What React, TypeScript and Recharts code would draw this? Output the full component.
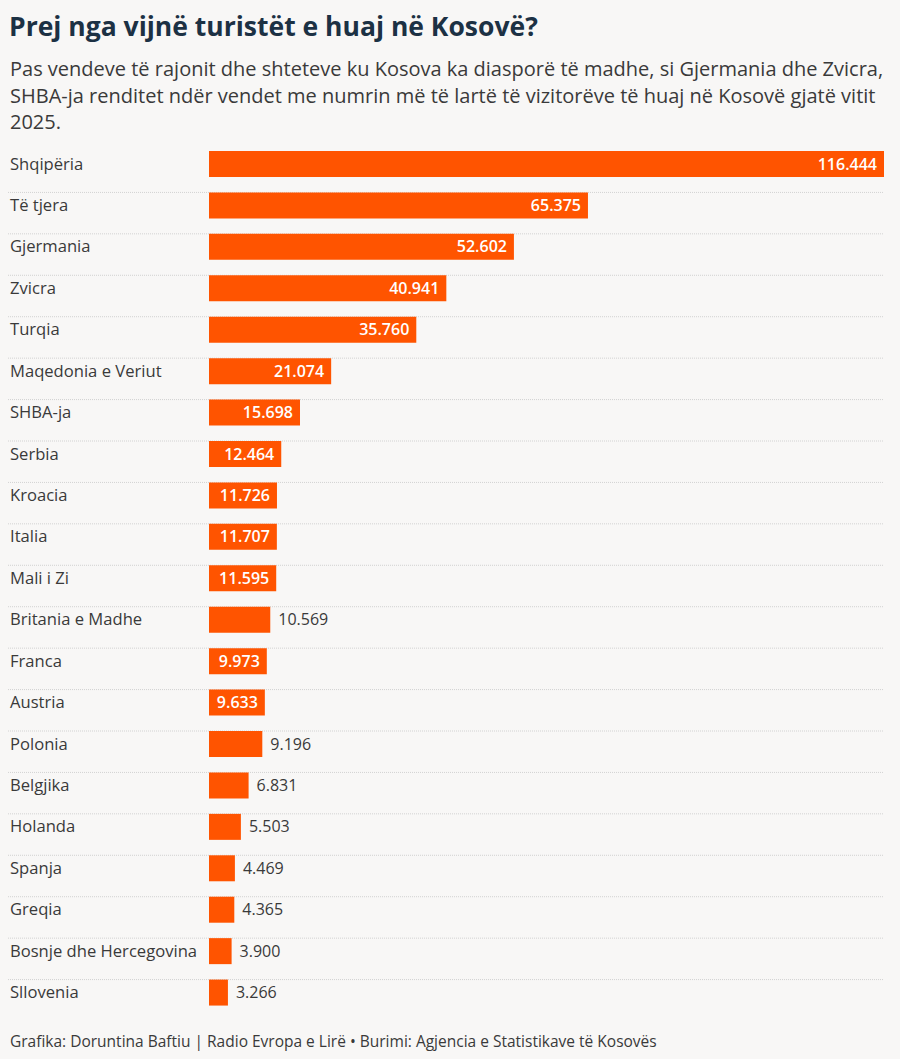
import { Bar, BarChart, LabelList, XAxis, YAxis } from "recharts";

const countries = [
  "Shqipëria",
  "Të tjera",
  "Gjermania",
  "Zvicra",
  "Turqia",
  "Maqedonia e Veriut",
  "SHBA-ja",
  "Serbia",
  "Kroacia",
  "Italia",
  "Mali i Zi",
  "Britania e Madhe",
  "Franca",
  "Austria",
  "Polonia",
  "Belgjika",
  "Holanda",
  "Spanja",
  "Greqia",
  "Bosnje dhe Hercegovina",
  "Sllovenia",
];

const visitors = [
  116444, 65375, 52602, 40941, 35760, 21074, 15698, 12464, 11726, 11707, 11595,
  10569, 9973, 9633, 9196, 6831, 5503, 4469, 4365, 3900, 3266,
];

const rows = countries.map((name, i) => ({ name, value: visitors[i] }));

const FONT = "'Open Sans', 'Noto Sans', sans-serif";
const ORANGE = "#ff5400";
const TEXT = "#3a3a3a";

function formatNum(v: number) {
  return v.toLocaleString("de-DE");
}

// rough width of a value label, used to decide inside / outside
function textWidth(s: string) {
  let w = 0;
  for (const c of s) w += c === "." ? 4.5 : 9.3;
  return w;
}

function ValueLabel(props: any) {
  const { x, y, width, height, value } = props;
  const txt = formatNum(value);
  const inside = width >= textWidth(txt) + 12;
  const cy = y + height / 2;
  return inside ? (
    <text
      x={x + width - 7}
      y={cy}
      dy="0.35em"
      textAnchor="end"
      fill="#ffffff"
      fontSize={16}
      fontWeight={600}
      fontFamily={FONT}
    >
      {txt}
    </text>
  ) : (
    <text
      x={x + width + 8}
      y={cy}
      dy="0.35em"
      textAnchor="start"
      fill={TEXT}
      fontSize={16}
      fontFamily={FONT}
    >
      {txt}
    </text>
  );
}

function RowLine(props: any) {
  const { x, y, width, index } = props;
  if (!index) return <g />;
  return (
    <line
      x1={8}
      x2={x + width}
      y1={y}
      y2={y}
      stroke="#d2d2d2"
      strokeWidth={1}
      strokeDasharray="1 1"
    />
  );
}

function CategoryTick(props: any) {
  const { y, payload } = props;
  return (
    <text x={10} y={y} dy="0.35em" fill={TEXT} fontSize={16.6} fontFamily={FONT}>
      {payload.value}
    </text>
  );
}

export default function App() {
  return (
    <div
      style={{
        position: "fixed",
        left: 0,
        top: 0,
        width: 900,
        height: 1059,
        background: "#f8f7f6",
        fontFamily: FONT,
        overflow: "hidden",
      }}
    >
      <div
        style={{
          position: "absolute",
          left: 9,
          top: 8,
          fontSize: 26.5,
          fontWeight: 700,
          color: "#1c3144",
        }}
      >
        Prej nga vijnë turistët e huaj në Kosovë?
      </div>
      <div
        style={{
          position: "absolute",
          left: 10,
          top: 56,
          fontSize: 20,
          lineHeight: "26.5px",
          color: TEXT,
          whiteSpace: "nowrap",
        }}
      >
        Pas vendeve të rajonit dhe shteteve ku Kosova ka diasporë të madhe, si Gjermania dhe Zvicra,
        <br />
        SHBA-ja renditet ndër vendet me numrin më të lartë të vizitorëve të huaj në Kosovë gjatë vitit
        <br />
        2025.
      </div>
      <div style={{ position: "absolute", left: 0, top: 143 }}>
        <BarChart
          width={900}
          height={870}
          data={rows}
          layout="vertical"
          margin={{ top: 0, right: 16, bottom: 0, left: 0 }}
          barCategoryGap={0}
        >
          <XAxis type="number" hide domain={[0, 116444]} />
          <YAxis
            type="category"
            dataKey="name"
            width={209}
            axisLine={false}
            tickLine={false}
            tick={<CategoryTick />}
            interval={0}
          />
          <Bar
            dataKey="value"
            fill={ORANGE}
            barSize={26}
            background={<RowLine />}
            isAnimationActive={false}
          >
            <LabelList dataKey="value" content={<ValueLabel />} />
          </Bar>
        </BarChart>
      </div>
      <div
        style={{
          position: "absolute",
          left: 10,
          top: 1030,
          fontSize: 15.5,
          color: TEXT,
          whiteSpace: "nowrap",
        }}
      >
        Grafika: Doruntina Baftiu | Radio Evropa e Lirë • Burimi: Agjencia e Statistikave të Kosovës
      </div>
    </div>
  );
}
